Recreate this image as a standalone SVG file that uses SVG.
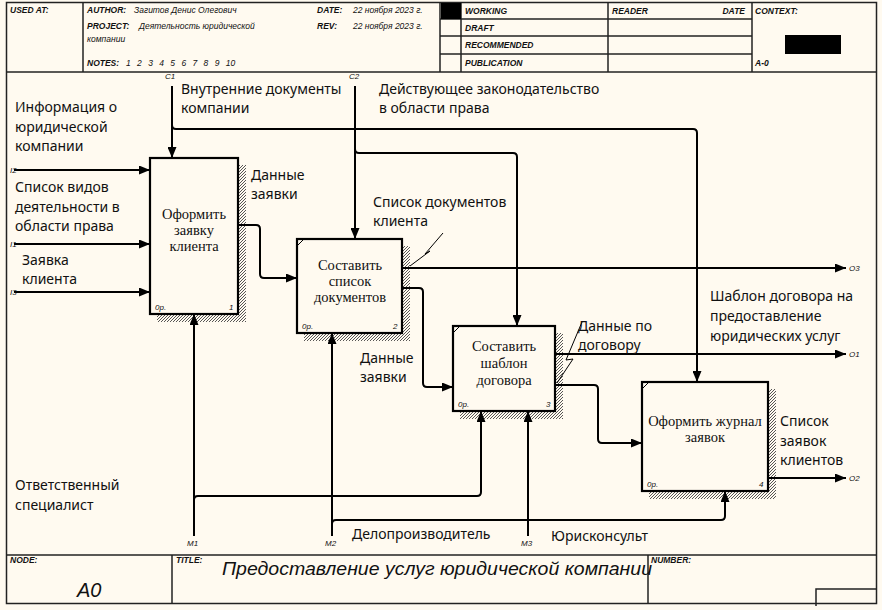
<svg xmlns="http://www.w3.org/2000/svg" width="882" height="610" viewBox="0 0 882 610">
<defs>
<pattern id="hatch" width="3" height="3" patternUnits="userSpaceOnUse"><rect width="3" height="3" fill="#fffaf0"/><path d="M0,3 L3,0" stroke="#444" stroke-width="0.9"/></pattern>
<marker id="ah" markerWidth="11" markerHeight="9" refX="11" refY="4.5" orient="auto" markerUnits="userSpaceOnUse"><path d="M0,0 L11,4.5 L0,9 z" fill="#000"/></marker>
<style>
.frame{fill:none;stroke:#222;stroke-width:1.5}
.hl{font-family:"Liberation Sans",Arial,sans-serif;font-style:italic;font-size:8.5px;fill:#111}
.hb{font-family:"Liberation Sans",Arial,sans-serif;font-style:italic;font-weight:bold;font-size:8.5px;fill:#111}
.box{fill:#fffaf0;stroke:#000;stroke-width:2.2}
.sh{fill:url(#hatch)}
.bt{font-family:"Liberation Serif","Times New Roman",serif;font-size:14.5px;fill:#111;text-anchor:middle}
.sm{font-family:"Liberation Sans",Arial,sans-serif;font-style:italic;font-size:8px;fill:#111}
.lab{font-family:"Noto Sans","Open Sans",sans-serif;font-size:14px;fill:#111}
.cn{fill:none;stroke:#000;stroke-width:2}
.ar{marker-end:url(#ah)}
.sq{fill:none;stroke:#000;stroke-width:1}
</style>
</defs>
<rect width="882" height="610" fill="#fffaf0"/>
<g id="frame">
<rect class="frame" x="6.5" y="2.5" width="870" height="601"/>
<line class="frame" x1="6.5" y1="72" x2="876.5" y2="72"/>
<line class="frame" x1="83" y1="2.5" x2="83" y2="72"/>
<line class="frame" x1="440" y1="2.5" x2="440" y2="72"/>
<line class="frame" x1="461" y1="2.5" x2="461" y2="72"/>
<line class="frame" x1="608" y1="2.5" x2="608" y2="72"/>
<line class="frame" x1="752" y1="2.5" x2="752" y2="72"/>
<line class="frame" x1="440" y1="19" x2="752" y2="19"/>
<line class="frame" x1="440" y1="36" x2="752" y2="36"/>
<line class="frame" x1="440" y1="54" x2="752" y2="54"/>
<rect x="441" y="3" width="20" height="16" fill="#000"/>
<rect x="785" y="35" width="56" height="19" fill="#000"/>
<line class="frame" x1="6.5" y1="555" x2="876.5" y2="555"/>
<line class="frame" x1="172" y1="555" x2="172" y2="603"/>
<line class="frame" x1="648" y1="555" x2="648" y2="603"/>
<polyline class="frame" points="816,606 816,589 876.5,589"/>
<text class="hb" x="10" y="13">USED AT:</text>
<text class="hb" x="87" y="13">AUTHOR:</text><text class="hl" x="134" y="13">Загитов Денис Олегович</text>
<text class="hb" x="87" y="29">PROJECT:</text><text class="hl" x="139" y="29">Деятельность юридической</text>
<text class="hl" x="87" y="42">компании</text>
<text class="hb" x="87" y="66">NOTES:</text><text class="hl" x="126" y="66" word-spacing="4">1 2 3 4 5 6 7 8 9 10</text>
<text class="hb" x="317" y="13">DATE:</text><text class="hl" x="353" y="13">22 ноября 2023 г.</text>
<text class="hb" x="317" y="29">REV:</text><text class="hl" x="353" y="29">22 ноября 2023 г.</text>
<text class="hb" x="465" y="14">WORKING</text>
<text class="hb" x="465" y="31">DRAFT</text>
<text class="hb" x="465" y="48">RECOMMENDED</text>
<text class="hb" x="465" y="66">PUBLICATION</text>
<text class="hb" x="612" y="14">READER</text>
<text class="hb" x="745" y="14" text-anchor="end">DATE</text>
<text class="hb" x="755" y="14">CONTEXT:</text>
<text class="hb" x="755" y="66">A-0</text>
<text class="hb" x="10" y="563" font-size="7">NODE:</text>
<text class="hb" x="176" y="563" font-size="7">TITLE:</text>
<text class="hb" x="651" y="563" font-size="7">NUMBER:</text>
<text x="77" y="597" font-family="Liberation Sans, Arial, sans-serif" font-style="italic" font-size="20" fill="#111">A0</text>
<text x="222" y="575" font-family="Liberation Sans, Arial, sans-serif" font-style="italic" font-size="19" fill="#111" textLength="430" lengthAdjust="spacingAndGlyphs">Предоставление услуг юридической компании</text>
</g>
<g id="node1">
<rect class="sh" x="238" y="165" width="8" height="157"/>
<rect class="sh" x="157" y="314" width="89" height="8"/>
<rect class="box" x="150" y="158" width="88" height="156"/>
<text class="bt" x="194" y="219">Оформить</text>
<text class="bt" x="194" y="235">заявку</text>
<text class="bt" x="194" y="251">клиента</text>
<text class="sm" x="155" y="310">0р.</text>
<text class="sm" x="229" y="310">1</text>
</g>
<g id="node2">
<rect class="sh" x="402" y="246" width="8" height="95"/>
<rect class="sh" x="304" y="333" width="106" height="8"/>
<rect class="box" x="297" y="239" width="105" height="94"/>
<path d="M297,246 L304,239" stroke="#000" stroke-width="1"/>
<text class="bt" x="350" y="270">Составить</text>
<text class="bt" x="350" y="286">список</text>
<text class="bt" x="350" y="302">документов</text>
<text class="sm" x="302" y="329">0р.</text>
<text class="sm" x="393" y="329">2</text>
</g>
<g id="node3">
<rect class="sh" x="555" y="333" width="8" height="86"/>
<rect class="sh" x="460" y="411" width="103" height="8"/>
<rect class="box" x="453" y="326" width="102" height="85"/>
<path d="M453,333 L460,326" stroke="#000" stroke-width="1"/>
<text class="bt" x="504" y="351">Составить</text>
<text class="bt" x="504" y="368">шаблон</text>
<text class="bt" x="504" y="385">договора</text>
<text class="sm" x="458" y="407">0р.</text>
<text class="sm" x="546" y="407">3</text>
</g>
<g id="node4">
<rect class="sh" x="768" y="389" width="8" height="110"/>
<rect class="sh" x="649" y="491" width="127" height="8"/>
<rect class="box" x="642" y="382" width="126" height="109"/>
<path d="M642,389 L649,382" stroke="#000" stroke-width="1"/>
<text class="bt" x="705" y="426">Оформить журнал</text>
<text class="bt" x="705" y="442">заявок</text>
<text class="sm" x="647" y="487">0р.</text>
<text class="sm" x="759" y="487">4</text>
</g>
<g id="connectors">
<path class="cn ar" d="M172,86 V158"/>
<path class="cn ar" d="M172,125 Q172,129 176,129 H693 Q697,129 697,133 V382"/>
<path class="cn ar" d="M355,86 V239"/>
<path class="cn ar" d="M355,149 Q355,153 359,153 H513 Q517,153 517,157 V326"/>
<path class="cn ar" d="M14,170 H150"/>
<path class="cn ar" d="M14,244 H150"/>
<path class="cn ar" d="M14,292 H150"/>
<path class="cn ar" d="M238,225 H256 Q260,225 260,229 V274 Q260,278 264,278 H297"/>
<path class="cn ar" d="M402,268 H846"/>
<path class="cn ar" d="M402,288 H419 Q423,288 423,292 V383 Q423,387 427,387 H453"/>
<path class="cn ar" d="M555,354 H846"/>
<path class="cn ar" d="M555,385 H594 Q598,385 598,389 V439 Q598,443 602,443 H642"/>
<path class="cn ar" d="M768,478 H846"/>
<path class="cn ar" d="M194,536 V314"/>
<path class="cn ar" d="M194,500 Q194,496 198,496 H477 Q481,496 481,492 V411"/>
<path class="cn ar" d="M332,536 V333"/>
<path class="cn ar" d="M332,524 Q332,520 336,520 H721 Q725,520 725,516 V491"/>
<path class="cn ar" d="M528,536 V411"/>
<polyline class="sq" points="410,266 430,251 425,254 443,233"/>
<polyline class="sq" points="557,383 573,359 566,360 582,322"/>
<text class="sm" x="165" y="79">C1</text>
<text class="sm" x="349" y="79">C2</text>
<text class="sm" x="10" y="173">I2</text>
<text class="sm" x="10" y="247">I1</text>
<text class="sm" x="10" y="295">I3</text>
<text class="sm" x="849" y="271">O3</text>
<text class="sm" x="849" y="357">O1</text>
<text class="sm" x="849" y="481">O2</text>
<text class="sm" x="187" y="546">M1</text>
<text class="sm" x="325" y="546">M2</text>
<text class="sm" x="521" y="546">M3</text>
<text class="lab" x="181" y="94">Внутренние документы</text>
<text class="lab" x="181" y="113">компании</text>
<text class="lab" x="379" y="94">Действующее законодательство</text>
<text class="lab" x="379" y="113">в области права</text>
<text class="lab" x="15" y="112">Информация о</text>
<text class="lab" x="15" y="132">юридической</text>
<text class="lab" x="15" y="151">компании</text>
<text class="lab" x="15" y="192">Список видов</text>
<text class="lab" x="15" y="212">деятельности в</text>
<text class="lab" x="15" y="231">области права</text>
<text class="lab" x="22" y="265">Заявка</text>
<text class="lab" x="22" y="284">клиента</text>
<text class="lab" x="251" y="180">Данные</text>
<text class="lab" x="251" y="199">заявки</text>
<text class="lab" x="373" y="207">Список документов</text>
<text class="lab" x="373" y="226">клиента</text>
<text class="lab" x="360" y="363">Данные</text>
<text class="lab" x="360" y="382">заявки</text>
<text class="lab" x="578" y="331">Данные по</text>
<text class="lab" x="578" y="350">договору</text>
<text class="lab" x="710" y="301">Шаблон договора на</text>
<text class="lab" x="710" y="321">предоставление</text>
<text class="lab" x="710" y="341">юридических услуг</text>
<text class="lab" x="780" y="426">Список</text>
<text class="lab" x="780" y="446">заявок</text>
<text class="lab" x="780" y="465">клиентов</text>
<text class="lab" x="15" y="490">Ответственный</text>
<text class="lab" x="15" y="510">специалист</text>
<text class="lab" x="352" y="539">Делопроизводитель</text>
<text class="lab" x="551" y="541">Юрисконсульт</text>
</g>
</svg>
